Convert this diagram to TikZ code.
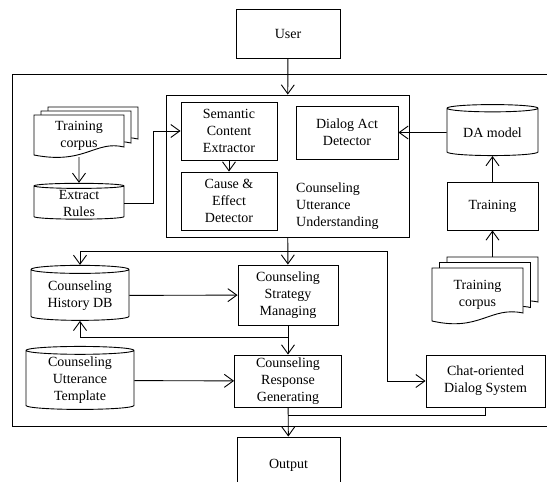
\documentclass[tikz,border=0pt]{standalone}
\usepackage{fontspec}
\setmainfont{Liberation Serif}
\usetikzlibrary{arrows.meta,shapes.geometric,positioning,calc}

\tikzset{
 blk/.style={draw, line width=0.9pt, fill=white, align=center, inner sep=1pt},
 db/.style={draw, line width=0.9pt, fill=white, align=center, inner sep=1pt,
  cylinder, shape border rotate=90, aspect=0.12},
 arr/.style={line width=0.9pt, -{Straight Barb[length=9pt,width=13pt]}},
 ln/.style={line width=0.9pt}
}

\begin{document}
\begin{tikzpicture}[x=1pt,y=-1pt,font=\fontsize{14}{17}\selectfont]

\clip (0,0) rectangle (547,482);

% outer frame
\draw[ln] (12,74) rectangle (560,426);

\node[blk, minimum width=104pt, minimum height=49pt] (user) at (288,33.5) {User};
\node[blk, minimum width=103pt, minimum height=56pt] (out) at (288.5,465) {Output};

% understanding block
\node[blk, minimum width=243pt, minimum height=142pt] (cuu) at (287.5,166) {};
\node[blk, minimum width=96pt, minimum height=58pt] (sce) at (229,131) {Semantic\\Content\\Extractor};
\node[blk, minimum width=96pt, minimum height=58pt] (ced) at (229,201) {Cause \&\\Effect\\Detector};
\node[blk, minimum width=102pt, minimum height=53pt] (dad) at (347,132.5) {Dialog Act\\Detector};
\node[anchor=west, align=left, inner sep=0pt] (cuutxt) at (296,206) {Counseling\\Utterance\\Understanding};

% training corpora
\foreach \i in {2,1,0}
{
 \draw[ln, fill=white] (34+7*\i,115-4*\i) -- (124+7*\i,115-4*\i) -- (124+7*\i,147-4*\i)
   .. controls (95+7*\i,140-4*\i) and (85+7*\i,165-4*\i) .. (34+7*\i,155-4*\i) -- cycle;
 \draw[ln, fill=white] (432+7.5*\i,268-5.5*\i) -- (523+7.5*\i,268-5.5*\i) -- (523+7.5*\i,313-5.5*\i)
   .. controls (490+7.5*\i,306-5.5*\i) and (480+7.5*\i,332-5.5*\i) .. (432+7.5*\i,321-5.5*\i) -- cycle;
}
\node[align=center, inner sep=0pt] (lcorp) at (79,136) {Training\\corpus};
\node[align=center, inner sep=0pt] (rcorp) at (477.5,295) {Training\\corpus};
\coordinate (lcorpb) at (79,157);
\coordinate (rcorpt) at (492.5,257);

\node[db, minimum width=90pt, minimum height=34pt] (rules) at (79,203) {Extract\\Rules};
\node[db, minimum width=91pt, minimum height=51pt] (dam) at (492.5,132.5) {DA model};
\node[blk, minimum width=91pt, minimum height=48pt] (train) at (492.5,206) {Training};

% lower part
\node[db, minimum width=98pt, minimum height=55pt] (hdb) at (80,295.5) {Counseling\\History DB};
\node[db, minimum width=108pt, minimum height=63pt] (tpl) at (80,380.5) {Counseling\\Utterance\\Template};
\node[blk, minimum width=100pt, minimum height=60pt] (csm) at (288,295) {Counseling\\Strategy\\Managing};
\node[blk, minimum width=107pt, minimum height=52pt] (crg) at (288,381) {Counseling\\Response\\Generating};
\node[blk, minimum width=119pt, minimum height=52pt] (chat) at (485.5,381) {Chat-oriented\\Dialog System};

\coordinate (split) at (288,251);
\coordinate (turn) at (387,251);
\coordinate (back) at (288,337);
\coordinate (merge) at (288,415);

\draw[arr] (user) -- (cuu);
\draw[arr] (lcorpb) -- (rules);
\draw[arr] (rules.east) -- ++(29,0) |- (sce.west);
\draw[arr] (sce) -- (ced);
\draw[arr] (dam) -- (dad);
\draw[arr] (train) -- (dam);
\draw[arr] (rcorpt) -- (train);

\draw[arr] (cuu) -- (csm);
\draw[arr] (split) -| (hdb.north);
\draw[arr] (split) -- (turn) |- (chat.west);
\draw[arr] (hdb) -- (csm);
\draw[arr] (csm) -- (crg);
\draw[arr] (back) -| (hdb.south);
\draw[arr] (tpl) -- (crg);
\draw[arr] (crg) -- (out);
\draw[ln] (chat.south) |- (merge);

\end{tikzpicture}
\end{document}
